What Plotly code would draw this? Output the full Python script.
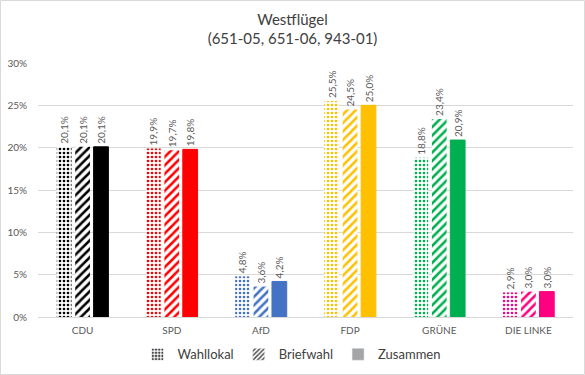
import plotly.graph_objects as go

categories = ["CDU", "SPD", "AfD", "FDP", "GRÜNE", "DIE LINKE"]
party_colors = ["#000000", "#FF0000", "#4472C4", "#FFC000", "#00B050", "#FF0080"]
wahllokal = [20.1, 19.9, 4.8, 25.5, 18.8, 2.9]
briefwahl = [20.1, 19.7, 3.6, 24.5, 23.4, 3.0]
zusammen = [20.1, 19.8, 4.2, 25.0, 20.9, 3.0]
series_names = ["Wahllokal", "Briefwahl", "Zusammen"]
y_ticks = [0, 5, 10, 15, 20, 25, 30]
y_ticktext = [f"{t}%" for t in y_ticks]

def fmt(v):
    return f"{v:.1f}%".replace(".", ",")

W, H = 585, 375
ML, MR, MT, MB = 38, 12, 63, 58

fig = go.Figure()
series = [wahllokal, briefwahl, zusammen]
shapes = [".", "/", ""]
for name, vals, shp in zip(series_names, series, shapes):
    if shp == ".":
        marker = dict(color="white",
                      pattern=dict(shape=".", fgcolor=party_colors, bgcolor="white",
                                   size=4, solidity=0.35, fillmode="replace", fgopacity=1),
                      line=dict(width=0))
    elif shp == "/":
        marker = dict(color="white",
                      pattern=dict(shape="/", fgcolor=party_colors, bgcolor="white",
                                   size=6, solidity=0.42, fillmode="replace", fgopacity=1),
                      line=dict(width=0))
    else:
        marker = dict(color=party_colors, line=dict(width=1, color=party_colors))
    fig.add_trace(go.Bar(
        x=categories, y=vals, name=name, showlegend=False,
        marker=marker,
        text=[fmt(v) for v in vals], textposition="outside", textangle=-90,
        constraintext="none",
        textfont=dict(size=10, color="#595959", family="Lato"),
        cliponaxis=False, hoverinfo="skip",
    ))

# legend-only traces with grey icons on a hidden axis
legend_cols = ["#404040", "#404040", "#A5A5A5"]
for name, shp, c in zip(series_names, shapes, legend_cols):
    if shp:
        marker = dict(color="white", pattern=dict(shape=shp, fgcolor=c, bgcolor="white",
                                                  size=4, solidity=0.45, fgopacity=1))
    else:
        marker = dict(color=c)
    fig.add_trace(go.Bar(x=[categories[0]], y=[None], name=name, marker=marker,
                         xaxis="x2", yaxis="y2", showlegend=True))

pw = W - ML - MR
ph = H - MT - MB
fig.update_layout(
    width=W, height=H,
    margin=dict(l=ML, r=MR, t=MT, b=MB, autoexpand=False),
    paper_bgcolor="white", plot_bgcolor="white",
    barmode="group", bargap=0.38, bargroupgap=0.2,
    font=dict(family="Lato", color="#595959"),
    title=dict(text="Westflügel<br>(651-05, 651-06, 943-01)", x=0.5, xanchor="center",
               y=0.934, yanchor="top", font=dict(size=15, color="#404040", family="Lato")),
    xaxis=dict(showgrid=False, showline=True, linecolor="#D9D9D9", linewidth=1,
               ticks="", tickfont=dict(size=10, color="#595959"), ticklabelstandoff=4),
    yaxis=dict(range=[0, 30], tickvals=y_ticks, ticktext=y_ticktext, showgrid=True,
               gridcolor="#D9D9D9", gridwidth=1, zeroline=False, showline=False,
               tickfont=dict(size=10, color="#595959"), ticklabelstandoff=10),
    xaxis2=dict(overlaying="x", visible=False),
    yaxis2=dict(overlaying="y", visible=False, range=[0, 1]),
    legend=dict(orientation="h", x=0.474, xanchor="center", yref="container", y=0.015,
                yanchor="bottom",
                font=dict(size=13, color="#404040", family="Lato"), itemwidth=30,
                traceorder="normal"),
    hovermode=False,
    shapes=[dict(type="rect", xref="paper", yref="paper",
                 x0=-ML / pw + 0.001, x1=1 + MR / pw - 0.001,
                 y0=-MB / ph + 0.002, y1=1 + MT / ph - 0.002,
                 line=dict(color="#D9D9D9", width=1), fillcolor="rgba(0,0,0,0)")],
)

fig.write_html("out.html", config={"displayModeBar": False})

# remove the browser's default page margin so the figure sits at the window origin
with open("out.html", "r", encoding="utf-8") as f:
    html = f.read()
html = html.replace("<head>", "<head><style>html,body{margin:0;padding:0;overflow:hidden;}</style>", 1)
with open("out.html", "w", encoding="utf-8") as f:
    f.write(html)
